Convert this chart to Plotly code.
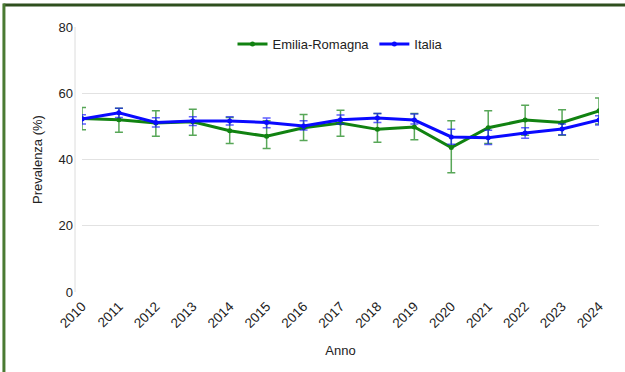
import plotly.graph_objects as go

years = [str(y) for y in range(2010, 2025)]

er_val = [52.4, 52.0, 51.0, 51.4, 48.7, 47.0, 49.6, 51.0, 49.1, 49.8, 43.6, 49.6, 51.9, 51.2, 54.7]
er_hi = [55.7, 55.5, 54.7, 55.2, 52.7, 51.7, 53.6, 54.9, 53.9, 53.9, 51.7, 54.7, 56.4, 55.0, 58.6]
er_lo = [49.0, 48.2, 47.0, 47.3, 44.8, 43.3, 45.7, 47.0, 45.2, 46.0, 36.0, 44.8, 47.3, 47.3, 50.7]

it_val = [52.2, 54.1, 51.2, 51.6, 51.6, 51.2, 50.1, 52.0, 52.5, 51.9, 46.8, 46.6, 48.0, 49.2, 51.9]
it_hi = [53.5, 55.5, 52.6, 52.9, 52.9, 52.5, 51.7, 53.4, 53.9, 53.7, 49.1, 48.8, 49.6, 50.7, 53.2]
it_lo = [50.7, 52.7, 49.8, 50.3, 50.4, 49.6, 48.9, 50.7, 51.2, 50.7, 44.6, 44.5, 46.4, 47.5, 50.4]

y_ticks = [0, 20, 40, 60, 80]

FONT = "Liberation Sans, Arial, sans-serif"

def trace(name, val, hi, lo, color, ecolor):
    return go.Scatter(
        x=years, y=val, name=name, mode="lines+markers",
        line=dict(color=color, width=3),
        marker=dict(color=color, size=5),
        error_y=dict(type="data", symmetric=False,
                     array=[h - v for h, v in zip(hi, val)],
                     arrayminus=[v - l for v, l in zip(val, lo)],
                     color=ecolor, thickness=1.5, width=4),
    )

fig = go.Figure()
fig.add_trace(trace("Emilia-Romagna", er_val, er_hi, er_lo, "#118211", "rgba(17,130,17,0.7)"))
fig.add_trace(trace("Italia", it_val, it_hi, it_lo, "#0a0aff", "rgba(10,10,255,0.65)"))

fig.update_layout(
    width=625, height=372,
    margin=dict(l=82, r=26, t=27, b=80),
    paper_bgcolor="white", plot_bgcolor="white",
    font=dict(family=FONT, size=13, color="#222"),
    showlegend=True,
    legend=dict(orientation="h", x=0.5, xanchor="center", y=0.936, yanchor="middle",
                font=dict(size=13, color="#222"), bgcolor="rgba(0,0,0,0)",
                itemwidth=30, tracegroupgap=0),
    xaxis=dict(type="category", range=[0, 14], tickangle=-45, showgrid=False,
               zeroline=False, showline=False, ticks="",
               ticklabelstandoff=3,
               tickfont=dict(size=13.5, color="#222"),
               title=dict(text="Anno", font=dict(size=13, color="#222"), standoff=16)),
    yaxis=dict(range=[0, 80], tickvals=y_ticks, showgrid=True, gridcolor="#e2e2e2",
               gridwidth=1, zeroline=False, showline=False, ticks="",
               ticklabelstandoff=8,
               tickfont=dict(size=13, color="#222"),
               title=dict(text="Prevalenza (%)", font=dict(size=13, color="#222"), standoff=12)),
    shapes=[
        dict(type="line", xref="paper", yref="paper", x0=-0.0135, x1=-0.0135, y0=0, y1=1,
             line=dict(color="#dcdcdc", width=1)),
        dict(type="line", xref="paper", yref="paper", x0=-0.152, x1=1.06, y0=1.083, y1=1.083,
             line=dict(color="#2e4f1e", width=3)),
        dict(type="line", xref="paper", yref="paper", x0=-0.151, x1=-0.151, y0=-0.31, y1=1.089,
             line=dict(color="#4a7a32", width=3)),
    ],
)

fig.write_html("out.html", config={"displayModeBar": False},
               post_script="document.body.style.margin='0';document.body.style.overflow='hidden';")
